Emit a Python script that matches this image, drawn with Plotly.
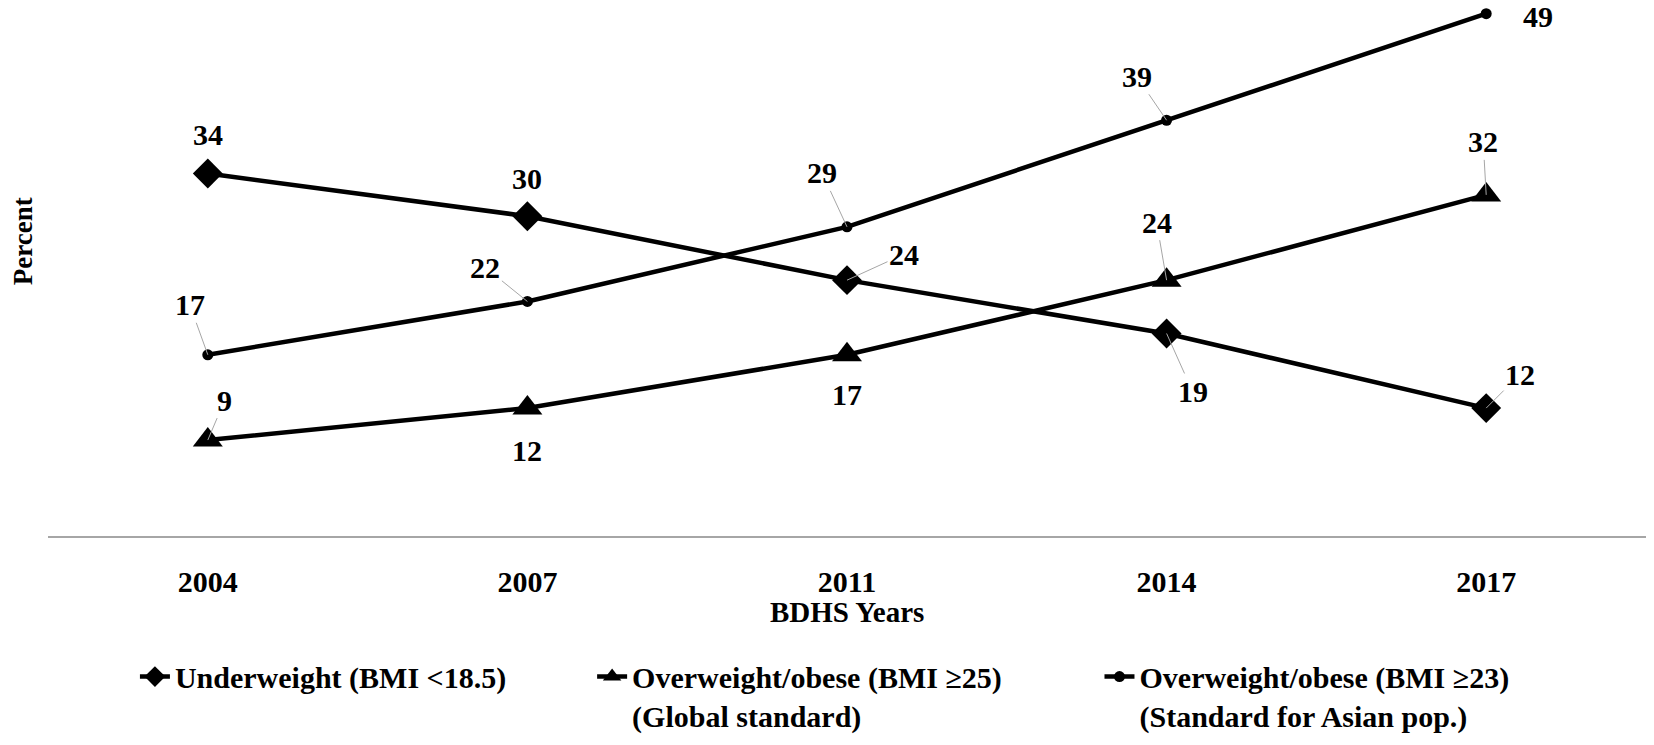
import plotly.graph_objects as go

# BDHS survey rounds and prevalence (%) among adults
years = ["2004", "2007", "2011", "2014", "2017"]
underweight = [34, 30, 24, 19, 12]
overweight_global = [9, 12, 17, 24, 32]
overweight_asian = [17, 22, 29, 39, 49]

series_names = [
    "Underweight (BMI <18.5)",
    "Overweight/obese (BMI ≥25)<br>(Global standard)",
    "Overweight/obese (BMI ≥23)<br>(Standard for Asian pop.)",
]

# label placement relative to each point: (dx px, dy px, draw leader line)
LABEL_OFFSETS = [
    [(0, -39, False), (0, -38, False), (57, -26, True), (26, 58, True), (34, -34, True)],
    [(17, -40, True), (0, 42, False), (0, 40, False), (-10, -58, True), (-3, -53, True)],
    [(-18, -50, True), (-42, -34, True), (-25, -54, True), (-30, -44, True), (52, 3, False)],
]

FONT = "Liberation Serif"
symbols = ["diamond", "triangle-up", "circle"]
sizes = [23, 26, 11]
legend_ids = ["legend", "legend2", "legend3"]
legend_x = [0.0544, 0.3405, 0.658]

fig = go.Figure()
annotations = []
for k, vals in enumerate([underweight, overweight_global, overweight_asian]):
    fig.add_trace(go.Scatter(
        x=years, y=vals, mode="lines+markers", name=series_names[k],
        line=dict(color="black", width=4.5),
        marker=dict(symbol=symbols[k], size=sizes[k], color="black"),
        legend=legend_ids[k], showlegend=True, hoverinfo="x+y",
    ))
    for i, v in enumerate(vals):
        dx, dy, leader = LABEL_OFFSETS[k][i]
        # category axis: annotations take the category index
        a = dict(x=i, y=v, xref="x", yref="y", text=str(v),
                 font=dict(family=FONT, size=30, color="black", weight="bold"))
        if leader:
            a.update(showarrow=True, ax=dx, ay=dy, arrowhead=0, arrowwidth=1,
                     arrowcolor="#a6a6a6", standoff=0)
        else:
            a.update(showarrow=False, xshift=dx, yshift=-dy)
        annotations.append(a)

annotations.append(dict(x=0.5, y=-0.142, xref="paper", yref="paper", text="BDHS Years",
                        xanchor="center", yanchor="middle", showarrow=False,
                        font=dict(family=FONT, size=29, color="black", weight="bold")))
annotations.append(dict(x=-0.016, y=0.554, xref="paper", yref="paper", text="Percent",
                        xanchor="center", yanchor="middle", textangle=-90, showarrow=False,
                        font=dict(family=FONT, size=27, color="black", weight="bold")))

legend_style = dict(orientation="h", yanchor="top", y=-0.215, xanchor="left",
                    valign="top", bgcolor="rgba(0,0,0,0)",
                    font=dict(family=FONT, size=30, color="black", weight="bold"))

fig.update_layout(
    width=1654, height=745,
    showlegend=True,
    paper_bgcolor="white", plot_bgcolor="white",
    margin=dict(l=48, r=8, t=3, b=193),
    xaxis=dict(type="category", range=[-0.5, 4.5], showgrid=False, zeroline=False,
               showline=True, linecolor="#a6a6a6", linewidth=2, ticks="",
               ticklabelstandoff=18,
               tickfont=dict(family=FONT, size=30, color="black", weight="bold")),
    yaxis=dict(range=[0, 50], visible=False, showgrid=False, zeroline=False),
    annotations=annotations,
    legend=dict(legend_style, x=legend_x[0]),
    legend2=dict(legend_style, x=legend_x[1]),
    legend3=dict(legend_style, x=legend_x[2]),
)

fig.write_html(
    "out.html",
    config={"displayModeBar": False},
    post_script="document.body.style.margin='0';document.body.style.overflow='hidden';",
)
